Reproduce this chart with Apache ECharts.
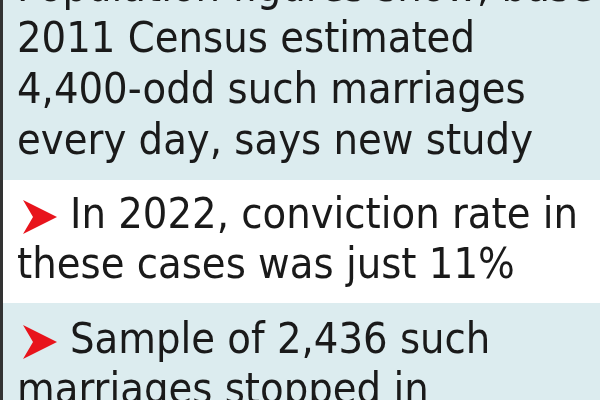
<!DOCTYPE html><html><head><meta charset="utf-8">
<script src="https://cdn.jsdelivr.net/npm/echarts@6/dist/echarts.min.js"></script>
<style>html,body{margin:0;padding:0;background:#fff}#c{width:600px;height:400px}</style></head><body><div id="c"></div>
<script>
const block1Lines = ["Population figures show, based on","2011 Census estimated","4,400-odd such marriages","every day, says new study"];
const block2Lines = ["In 2022, conviction rate in","these cases was just 11%"];
const block3Lines = ["Sample of 2,436 such","marriages stopped in"];
const chart = echarts.init(document.getElementById('c'));
const font = '43px "DejaVu Sans Condensed", "Liberation Sans Narrow", sans-serif';
const g = [];
g.push({type:'rect',shape:{x:0,y:0,width:600,height:180},style:{fill:'#dcecef'}});
g.push({type:'rect',shape:{x:0,y:180,width:600,height:123},style:{fill:'#ffffff'}});
g.push({type:'rect',shape:{x:0,y:303,width:600,height:97},style:{fill:'#dcecef'}});
g.push({type:'rect',shape:{x:0,y:0,width:3,height:400},style:{fill:'#333'}});
function addLines(lines, y0, step, arrow){
  lines.forEach((t,i)=>{
    let x=17;
    if(arrow && i===0){
      g.push({type:'polygon',shape:{points:[[23,y0-17],[57,y0],[23,y0+17],[33,y0]]},style:{fill:'#e8141c'}});
      x=70;
    }
    g.push({type:'text',x:x,y:y0+i*step,style:{text:t,font:font,fill:'#1a1a1a',verticalAlign:'middle'}});
  });
}
addLines(block1Lines,-10,51,false);
addLines(block2Lines,217,50,true);
addLines(block3Lines,342,50,true);
chart.setOption({animation:false,graphic:g});
</script></body></html>
